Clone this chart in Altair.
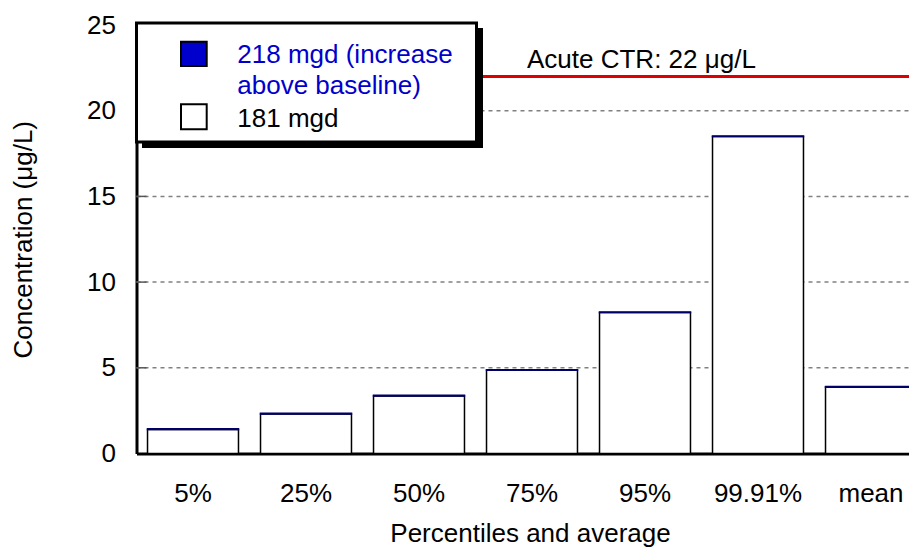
import altair as alt
import pandas as pd

# ---------------- data ----------------
categories = ["5%", "25%", "50%", "75%", "95%", "99.91%", "mean"]
baseline_181 = [1.40, 2.30, 3.35, 4.85, 8.22, 18.50, 3.86]
increase_218 = [0.05, 0.05, 0.05, 0.04, 0.03, 0.03, 0.05]
series_names = ["181 mgd", "218 mgd (increase above baseline)"]
series_fill = ["#ffffff", "#0000cc"]
series_stroke = ["#000000", "#000066"]
y_ticks = [0, 5, 10, 15, 20, 25]
grid_values = [5, 10, 15, 20]
ctr_value = [22]
ctr_label = ["Acute CTR: 22 \u03bcg/L"]
legend_text_top = "218 mgd (increase\nabove baseline)"
legend_text_bottom = "181 mgd"

rows = []
for i, c in enumerate(categories):
    rows.append({"cat": c, "series": series_names[0], "value": baseline_181[i], "ord": 0})
    rows.append({"cat": c, "series": series_names[1], "value": increase_218[i], "ord": 1})
df = pd.DataFrame(rows)

FONT = "Liberation Sans"
FS = 26
W, H = 772.5, 428.5
BAND_RANGE = 791  # bands continue past the visible right edge, as in the original

x_scale = alt.Scale(domain=categories, range=[0, BAND_RANGE], paddingInner=0.195, paddingOuter=0.0975)
y_scale = alt.Scale(domain=[0, 25], nice=False, zero=True)

x_axis = alt.Axis(
    title="Percentiles and average", labelAngle=0, ticks=False, tickSize=0,
    labelPadding=40, labelBaseline="middle", labelFontSize=FS, labelFont=FONT,
    labelColor="black", titleFontSize=FS, titleFont=FONT, titleFontWeight="normal",
    titleColor="black", titleBaseline="alphabetic", titleY=87.5, titleX=393.5,
    domainColor="black", domainWidth=3,
)
y_axis = alt.Axis(
    title="Concentration (\u03bcg/L)", values=y_ticks, grid=False, ticks=False,
    tickSize=0, labelPadding=21, labelFontSize=FS, labelFont=FONT,
    labelColor="black", titleFontSize=FS, titleFont=FONT, titleFontWeight="normal",
    titleColor="black", titleAngle=270, titleBaseline="alphabetic",
    titleX=-105.5, titleY=H / 2, titleAlign="center",
    domainColor="black", domainWidth=3,
)

grid_df = pd.DataFrame({"v": grid_values})
grid = alt.Chart(grid_df).mark_rule(color="#808080", strokeWidth=1.5, strokeDash=[4, 4]).encode(
    y=alt.Y("v:Q", scale=y_scale, axis=y_axis), x=alt.value(0), x2=alt.value(W)
)
ticks_in = alt.Chart(grid_df).mark_rule(color="#555555", strokeWidth=1.5).encode(
    y=alt.Y("v:Q", scale=y_scale, axis=y_axis), x=alt.value(0), x2=alt.value(10)
)

bars = alt.Chart(df).mark_bar(strokeWidth=1.5).encode(
    x=alt.X("cat:N", scale=x_scale, axis=x_axis, sort=categories),
    y=alt.Y("value:Q", scale=y_scale, axis=y_axis, stack="zero"),
    fill=alt.Fill("series:N", scale=alt.Scale(domain=series_names, range=series_fill), legend=None),
    stroke=alt.Stroke("series:N", scale=alt.Scale(domain=series_names, range=series_stroke), legend=None),
    order=alt.Order("ord:Q"),
)

ctr_df = pd.DataFrame({"v": ctr_value, "label": ctr_label})
ctr_line = alt.Chart(ctr_df).mark_rule(color="#dd0000", strokeWidth=3).encode(
    y=alt.Y("v:Q", scale=y_scale, axis=y_axis), x=alt.value(0), x2=alt.value(W)
)
ctr_text = alt.Chart(ctr_df).mark_text(
    align="left", baseline="alphabetic", dy=-8, fontSize=FS, font=FONT, color="black"
).encode(y=alt.Y("v:Q", scale=y_scale, axis=y_axis), x=alt.value(390.5), text="label:N")

one = pd.DataFrame({"k": [0]})
shadow = alt.Chart(one).mark_rect(fill="black").encode(
    x=alt.value(5.5), x2=alt.value(346.5), y=alt.value(3), y2=alt.value(123)
)
box = alt.Chart(one).mark_rect(fill="white", stroke="black", strokeWidth=3).encode(
    x=alt.value(0), x2=alt.value(340), y=alt.value(-2), y2=alt.value(117)
)
sym_blue = alt.Chart(one).mark_rect(fill=series_fill[1], stroke="black", strokeWidth=2).encode(
    x=alt.value(44.5), x2=alt.value(70.2), y=alt.value(16.7), y2=alt.value(41)
)
sym_white = alt.Chart(one).mark_rect(fill=series_fill[0], stroke="black", strokeWidth=2).encode(
    x=alt.value(44.5), x2=alt.value(70.2), y=alt.value(79.3), y2=alt.value(104.3)
)
leg_t1 = alt.Chart(one).mark_text(
    align="left", baseline="alphabetic", fontSize=FS, font=FONT, color="#0000cc",
    lineBreak="\n", lineHeight=31, text=legend_text_top
).encode(x=alt.value(100.8), y=alt.value(38.3))
leg_t2 = alt.Chart(one).mark_text(
    align="left", baseline="alphabetic", fontSize=FS, font=FONT, color="black",
    text=legend_text_bottom
).encode(x=alt.value(100.8), y=alt.value(102))

chart = alt.layer(
    grid, ticks_in, bars, ctr_line, ctr_text, shadow, box, sym_blue, sym_white, leg_t1, leg_t2
).properties(
    width=W, height=H, autosize="none",
    padding={"left": 128.5, "top": 17, "right": 0, "bottom": 94.5},
).configure(font=FONT).configure_view(stroke=None)

chart.save("out.html", embed_options={"renderer": "svg", "actions": False})
